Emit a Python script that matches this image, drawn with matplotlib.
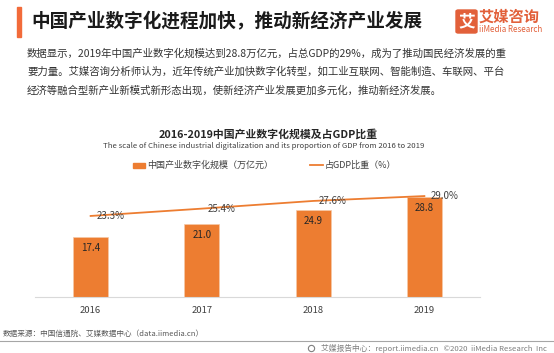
"""2016-2019 China industrial digitalization scale and share of GDP."""
import matplotlib
matplotlib.use('Agg')
import matplotlib.pyplot as plt
from matplotlib.patches import Rectangle, FancyBboxPatch
from matplotlib.lines import Line2D

plt.rcParams['font.family'] = ['Noto Sans CJK SC', 'DejaVu Sans']

years = ['2016', '2017', '2018', '2019']
scale_trillion = [17.4, 21.0, 24.9, 28.8]      # 万亿元
gdp_share = [23.3, 25.4, 27.6, 29.0]           # %

ORANGE = '#ED7D31'
W, H = 554, 353


def fx(px):
    return px / W


def fy(py):
    return 1 - py / H


fig = plt.figure(figsize=(W / 100, H / 100), dpi=100)
fig.patch.set_facecolor('white')

# ==================================================================
# Header: title bar, title, logo
# ==================================================================
fig.add_artist(Rectangle((fx(17), fy(37)), fx(4), 30 / H, color='#F26B3A',
                         transform=fig.transFigure))
fig.text(fx(31), fy(22), '中国产业数字化进程加快，推动新经济产业发展',
         fontsize=13.4, fontweight='bold', color='#1a1a1a', va='center')

fig.add_artist(FancyBboxPatch((fx(456), fy(33)), fx(21), 23 / H,
                              boxstyle='round,pad=0,rounding_size=0.004',
                              color='#E2603A', transform=fig.transFigure))
fig.text(fx(466.5), fy(21.5), '艾', fontsize=12, fontweight='bold',
         color='white', ha='center', va='center')
fig.text(fx(479), fy(17), '艾媒咨询', fontsize=11, fontweight='bold',
         color='#E2603A', va='center')
fig.text(fx(479), fy(29), 'iiMedia Research', fontsize=5.8,
         color='#E2603A', va='center')

# ==================================================================
# Intro paragraph
# ==================================================================
para = ['数据显示，2019年中国产业数字化规模达到28.8万亿元，占总GDP的29%，成为了推动国民经济发展的重',
        '要力量。艾媒咨询分析师认为，近年传统产业加快数字化转型，如工业互联网、智能制造、车联网、平台',
        '经济等融合型新产业新模式新形态出现，使新经济产业发展更加多元化，推动新经济发展。']
for i, line in enumerate(para):
    fig.text(fx(27), fy(54 + 18 * i), line, fontsize=7.5, color='#333333',
             va='center')

# ==================================================================
# Chart titles and legend
# ==================================================================
fig.text(fx(268), fy(134), '2016-2019中国产业数字化规模及占GDP比重',
         fontsize=7.8, fontweight='bold', color='#262626', ha='center', va='center')
fig.text(fx(264), fy(146),
         'The scale of Chinese industrial digitalization and its proportion of GDP from 2016 to 2019',
         fontsize=5.6, color='#404040', ha='center', va='center')

fig.add_artist(Rectangle((fx(133), fy(168)), fx(12), 5 / H, color=ORANGE,
                         transform=fig.transFigure))
fig.text(fx(147), fy(165), '中国产业数字化规模（万亿元）', fontsize=6.5,
         color='#404040', va='center')
fig.add_artist(Line2D([fx(310), fx(323)], [fy(165), fy(165)], color=ORANGE,
                      lw=1.3, transform=fig.transFigure))
fig.text(fx(325), fy(165), '占GDP比重（%）', fontsize=6.5, color='#404040',
         va='center')

# ==================================================================
# Bars + line
# ==================================================================
ymax = 33.6
ax = fig.add_axes([fx(35), fy(297.3), fx(445), 117.3 / H])
x = list(range(len(years)))
ax.bar(x, scale_trillion, width=0.315, color=ORANGE, edgecolor='#F6C9A8',
       linewidth=0.5, zorder=2)
for xi, v in zip(x, scale_trillion):
    ax.annotate(f'{v:.1f}', (xi, v), xytext=(0, -8), textcoords='offset points',
                ha='center', va='center', fontsize=7, color='#262626')
ax.set_xlim(-0.5, len(years) - 0.5)
ax.set_ylim(0, ymax)
ax.set_xticks(x)
ax.set_xticklabels(years, fontsize=6.8, color='#404040')
ax.tick_params(axis='x', length=0, pad=6)
ax.set_yticks([])
for side in ['top', 'left', 'right']:
    ax.spines[side].set_visible(False)
ax.spines['bottom'].set_color('#D9D9D9')
ax.spines['bottom'].set_linewidth(0.8)

ax2 = ax.twinx()
ax2.plot(x, gdp_share, color=ORANGE, lw=1.3, zorder=3)
for xi, v in zip(x, gdp_share):
    ax2.annotate(f'{v:.1f}%', (xi, v), xytext=(4.3, 0), textcoords='offset points',
                 ha='left', va='center', fontsize=7, color='#404040')
ax2.set_ylim(0, ymax)
ax2.set_yticks([])
ax2.axis('off')

# ==================================================================
# Footer
# ==================================================================
fig.text(fx(3), fy(334), '数据来源：中国信通院、艾媒数据中心（data.iimedia.cn）',
         fontsize=5.5, color='#595959', va='center')
fig.add_artist(Line2D([0, 1], [fy(341), fy(341)], color='#A6A6A6', lw=0.8,
                      transform=fig.transFigure))
fig.add_artist(Line2D([fx(311)], [fy(348)], marker='o', markersize=4.5,
                      markerfacecolor='white', markeredgecolor='#808080',
                      markeredgewidth=0.8, transform=fig.transFigure))
fig.text(fx(547), fy(348), '艾媒报告中心：report.iimedia.cn   ©2020  iiMedia Research  Inc',
         fontsize=5.6, color='#7F7F7F', ha='right', va='center')

fig.savefig('out.png', dpi=100)
